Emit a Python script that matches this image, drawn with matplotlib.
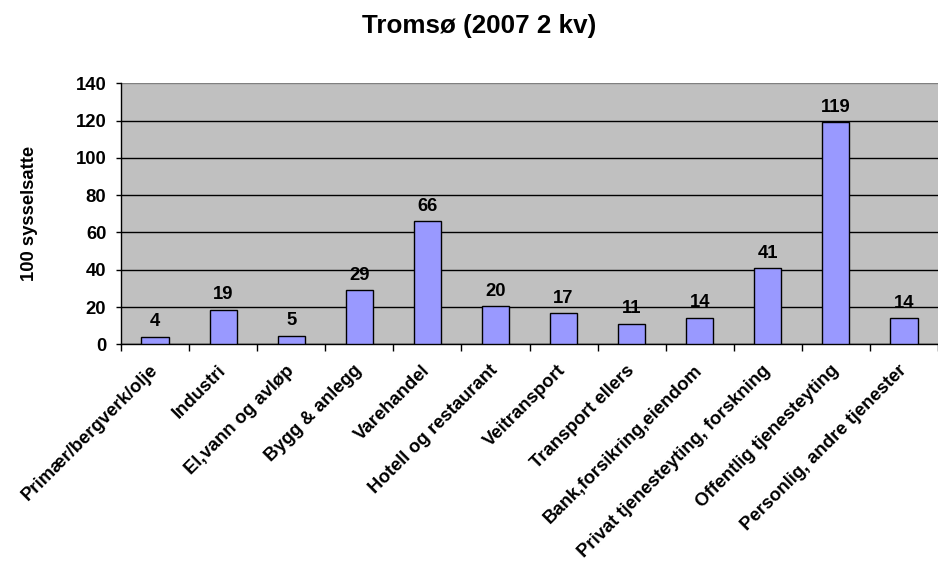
import matplotlib.pyplot as plt
from matplotlib.transforms import ScaledTranslation
import numpy as np

# data
categories = ['Primær/bergverk/olje', 'Industri', 'El,vann og avløp', 'Bygg & anlegg',
              'Varehandel', 'Hotell og restaurant', 'Veitransport', 'Transport ellers',
              'Bank,forsikring,eiendom', 'Privat tjenesteyting, forskning',
              'Offentlig tjenesteyting', 'Personlig, andre tjenester']
values = [4.1, 18.6, 4.6, 29.0, 66.1, 20.4, 16.6, 10.9, 14.3, 40.8, 119.1, 14.0]
yticks = [0, 20, 40, 60, 80, 100, 120, 140]

BAR = '#9999ff'
BG = '#c0c0c0'
FS = 13.3

plt.rcParams['font.family'] = ['Liberation Sans', 'DejaVu Sans']
plt.rcParams['font.weight'] = 'bold'

fig = plt.figure(figsize=(9.38, 5.62), dpi=100)
ax = fig.add_axes([121 / 938, 1 - 344.3 / 562, 1 - 121 / 938, (344.3 - 83.3) / 562])
ax.set_facecolor(BG)

x = np.arange(len(values))
ax.bar(x, values, width=0.4, color=BAR, edgecolor='black', linewidth=1.0, zorder=3)
for xi, v in zip(x, values):
    ax.annotate(f'{v:.0f}', (xi, v), xytext=(0, 7.6), textcoords='offset points',
                ha='center', va='baseline', fontsize=FS, fontweight='bold')

ax.set_xlim(-0.5, 11.4)
ax.set_ylim(0, 140)
ax.set_yticks(yticks)
ax.yaxis.grid(True, color='black', linewidth=1.0, zorder=1)
ax.set_axisbelow(True)
# plot-area border on top is grey, not black
ax.get_ygridlines()[-1].set_color('#808080')

# tick marks between categories, labels centred under bars
ax.set_xticks(np.arange(-0.5, 12, 1.0))
ax.set_xticklabels([])
ax.set_xticks(x, minor=True)
ax.set_xticklabels(categories, minor=True, rotation=45, ha='right', va='center',
                   rotation_mode='anchor', fontsize=FS, fontweight='bold')
shift = ScaledTranslation(-3 / 100, 0, fig.dpi_scale_trans)
for lbl in ax.get_xticklabels(minor=True):
    lbl.set_transform(lbl.get_transform() + shift)
ax.tick_params(axis='x', which='major', direction='out', length=5, width=1)
ax.tick_params(axis='x', which='minor', length=0, pad=17)
ax.tick_params(axis='y', direction='out', length=3.6, width=1, pad=7, labelsize=FS)
for lbl in ax.get_yticklabels():
    lbl.set_fontweight('bold')

for s in ['top', 'right']:
    ax.spines[s].set_visible(False)
ax.spines['left'].set_linewidth(1.0)
ax.spines['bottom'].set_linewidth(1.0)

fig.text(30 / 938, 1 - 213 / 562, '100 sysselsatte', rotation=90, ha='center',
         va='center', fontsize=FS, fontweight='bold')
fig.text(479 / 938, 1 - 33 / 562, 'Tromsø (2007 2 kv)', ha='center', va='baseline',
         fontsize=18.7, fontweight='bold')

fig.savefig('out.png', dpi=100)
